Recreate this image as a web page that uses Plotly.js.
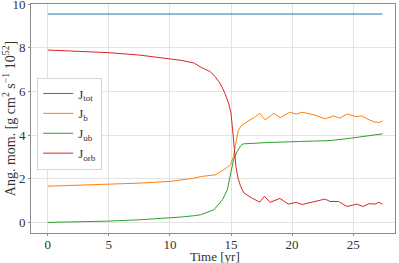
<!DOCTYPE html>
<html>
<head>
<meta charset="utf-8">
<script src="https://cdn.plot.ly/plotly-3.0.1.min.js"></script>
<style>html,body{margin:0;padding:0;background:#fff;}#chart{width:399px;height:263px;}</style>
</head>
<body>
<div id="chart"></div>
<script>
// Data
var totTime = [0, 27.4];
var totVals = [9.55, 9.55];

var bTime = [0, 2.5, 5, 7.5, 10, 11, 12, 12.5, 13.7, 14.4, 14.95, 15.2, 15.4, 15.6, 15.9, 16.6, 17.0, 17.35, 17.8, 18.5, 19.05, 19.8, 20.35, 20.8, 21.8, 22.7, 23.4, 23.9, 24.5, 25.2, 25.7, 26.3, 26.8, 27.1, 27.4];
var bVals = [1.66, 1.7, 1.75, 1.8, 1.88, 1.95, 2.03, 2.1, 2.18, 2.41, 2.64, 3.02, 3.7, 4.24, 4.47, 4.7, 4.85, 5.0, 4.7, 5.0, 4.8, 5.05, 4.96, 5.05, 4.93, 4.75, 4.88, 4.78, 4.97, 4.85, 4.88, 4.7, 4.6, 4.58, 4.65];

var ubTime = [0, 2.5, 5, 7.5, 10, 11, 12, 12.5, 13.6, 14.3, 14.7, 14.95, 15.2, 15.5, 15.8, 16.0, 17.95, 20.7, 23.1, 24.8, 26.0, 27.4];
var ubVals = [0, 0.02, 0.06, 0.12, 0.2, 0.25, 0.31, 0.35, 0.58, 1.04, 1.5, 2.26, 2.87, 3.25, 3.52, 3.6, 3.66, 3.71, 3.75, 3.86, 3.94, 4.06];

var orbTime = [0, 2.5, 5, 7.5, 10, 11, 12, 12.5, 13.3, 13.7, 14.1, 14.5, 14.8, 15.0, 15.13, 15.27, 15.4, 15.57, 15.76, 16.03, 16.7, 17.35, 17.73, 18.2, 18.6, 19.0, 19.7, 20.35, 20.8, 21.8, 22.7, 23.1, 23.8, 24.5, 24.9, 25.3, 25.8, 26.3, 26.8, 27.1, 27.4];
var orbVals = [7.9, 7.85, 7.78, 7.67, 7.5, 7.42, 7.3, 7.12, 6.91, 6.68, 6.38, 5.92, 5.46, 5.0, 4.24, 3.33, 2.56, 2.03, 1.7, 1.36, 1.12, 0.93, 1.2, 0.92, 1.02, 1.1, 0.84, 0.92, 0.82, 0.95, 1.07, 0.96, 0.96, 0.73, 0.78, 0.84, 0.73, 0.86, 0.84, 0.92, 0.83];

var seriesNames = ['J<sub>tot</sub>', 'J<sub>b</sub>', 'J<sub>ub</sub>', 'J<sub>orb</sub>'];
var seriesColors = ['#1f77b4', '#ff7f0e', '#2ca02c', '#d62728'];
var xTicks = [0, 5, 10, 15, 20, 25];
var yTicks = [0, 2, 4, 6, 8, 10];
var xTitle = 'Time [yr]';
var yTitle = 'Ang. mom. [g cm<sup>2</sup> s<sup>\u22121</sup> 10<sup>52</sup>]';

var xs = [totTime, bTime, ubTime, orbTime];
var ys = [totVals, bVals, ubVals, orbVals];
var traces = xs.map(function (x, i) {
  return {x: x, y: ys[i], name: seriesNames[i], mode: 'lines', type: 'scatter',
          line: {color: seriesColors[i], width: 1}};
});

var font = '"Liberation Serif", "Times New Roman", serif';
var axisCommon = {
  showline: true, mirror: true, linecolor: '#8c8c8c', linewidth: 1,
  showgrid: true, gridcolor: '#e3e3e3', gridwidth: 1,
  zeroline: false, ticks: 'outside', ticklen: 2, tickcolor: '#8c8c8c',
  ticklabeloverflow: 'allow',
  tickfont: {family: font, size: 13, color: '#333'}
};

var layout = {
  width: 399, height: 263,
  margin: {l: 31, r: 4, t: 4, b: 30},
  paper_bgcolor: '#fff', plot_bgcolor: '#fff',
  font: {family: font, color: '#333'},
  xaxis: Object.assign({}, axisCommon, {
    range: [-1.37, 28.42], tickvals: xTicks, ticktext: xTicks.map(String),
    ticklabelstandoff: -3
  }),
  yaxis: Object.assign({}, axisCommon, {
    range: [-0.485, 10.01], tickvals: yTicks, ticktext: yTicks.map(String),
    title: {text: yTitle, font: {family: font, size: 14, color: '#333'}, standoff: 3}
  }),
  annotations: [{
    text: xTitle, xref: 'paper', yref: 'paper', x: 0.505, y: -0.104,
    xanchor: 'center', yanchor: 'middle', showarrow: false,
    font: {family: font, size: 13, color: '#333'}
  }],
  showlegend: true,
  legend: {
    x: 0.017, y: 0.679, xanchor: 'left', yanchor: 'top',
    bgcolor: '#ffffff', bordercolor: '#d6d6d6', borderwidth: 1,
    font: {family: font, size: 13, color: '#333'},
    tracegroupgap: 0
  }
};

Plotly.newPlot('chart', traces, layout, {staticPlot: true, displayModeBar: false});
</script>
</body>
</html>
